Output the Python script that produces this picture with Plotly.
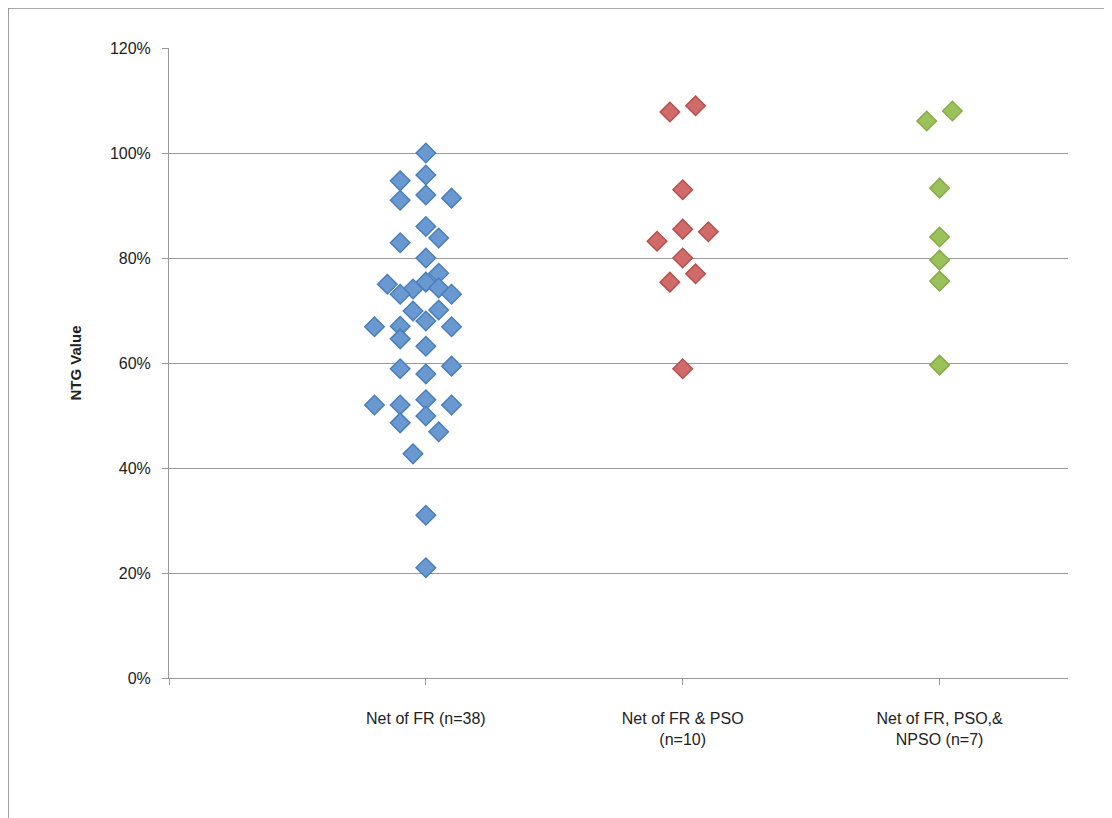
import plotly.graph_objects as go

# x position = category index + small jitter offset, y = NTG value
fr_x = [1, 0.9, 1, 0.9, 1, 1.1, 1, 1.05, 0.9, 1, 1.05, 0.85, 1, 0.95, 1.05, 0.9, 1.1,
        0.95, 1.05, 1, 0.8, 0.9, 1.1, 0.9, 1, 0.9, 1.1, 1, 1, 0.8, 0.9, 1.1, 0.9, 1,
        1.05, 0.95, 1, 1]
fr_y = [1.00, 0.947, 0.958, 0.91, 0.92, 0.914, 0.86, 0.838, 0.829, 0.80, 0.771, 0.75,
        0.754, 0.741, 0.743, 0.731, 0.731, 0.699, 0.701, 0.68, 0.669, 0.67, 0.669,
        0.646, 0.632, 0.589, 0.594, 0.579, 0.53, 0.52, 0.52, 0.52, 0.486, 0.499,
        0.469, 0.427, 0.31, 0.21]
pso_x = [1.95, 2.05, 2, 2, 1.9, 2.1, 2, 2.05, 1.95, 2]
pso_y = [1.078, 1.09, 0.93, 0.855, 0.832, 0.85, 0.80, 0.77, 0.754, 0.589]
npso_x = [2.95, 3.05, 3, 3, 3, 3, 3]
npso_y = [1.061, 1.08, 0.933, 0.84, 0.796, 0.756, 0.596]

cat_labels = ["Net of FR (n=38)", "Net of FR & PSO<br>(n=10)", "Net of FR, PSO,&<br>NPSO (n=7)"]

fig = go.Figure()
for xs, ys, fill, edge in [(fr_x, fr_y, "#6a98d0", "#4a7ebb"),
                           (pso_x, pso_y, "#d06b69", "#b8504d"),
                           (npso_x, npso_y, "#9bc15a", "#87ab47")]:
    fig.add_trace(go.Scatter(x=xs, y=ys, mode="markers",
                             marker=dict(symbol="diamond", size=15, color=fill,
                                         line=dict(color=edge, width=1.5))))

fig.add_shape(type="rect", xref="paper", yref="paper", x0=-0.179, x1=1.2,
              y0=-0.4, y1=1.0635, line=dict(color="#8c8c8c", width=1.5))

fig.update_layout(
    width=1112, height=818, showlegend=False,
    plot_bgcolor="white", paper_bgcolor="white",
    margin=dict(l=161, r=52, t=40, b=148),
    font=dict(family="Liberation Sans", size=16, color="#222"),
    xaxis=dict(range=[0, 3.5], tickvals=[0, 1, 2, 3], ticktext=[""] + cat_labels,
               showgrid=False, zeroline=False, showline=True, linecolor="#999",
               ticks="outside", tickcolor="#999", ticklen=6, ticklabelstandoff=20),
    yaxis=dict(range=[0, 1.2], dtick=0.2, tickformat=".0%", showgrid=True,
               gridcolor="#999", zeroline=False, showline=True, linecolor="#999",
               ticks="outside", tickcolor="#999", ticklen=6, ticklabelstandoff=8,
               title=dict(text="<b>NTG Value</b>", font=dict(size=15), standoff=24)),
)
fig.write_html("out.html")
